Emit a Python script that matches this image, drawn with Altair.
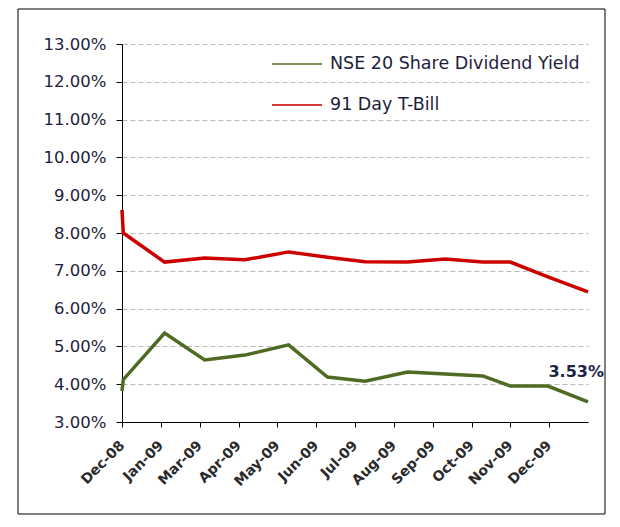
import altair as alt
import pandas as pd

# ---- data ----
dates = ["2008-12-31", "2009-01-01", "2009-02-03", "2009-03-07", "2009-04-08",
         "2009-05-13", "2009-06-13", "2009-07-13", "2009-08-16", "2009-09-15",
         "2009-10-15", "2009-11-06", "2009-12-06", "2010-01-07"]
nse_yield = [3.82, 4.12, 5.35, 4.64, 4.77, 5.04, 4.19, 4.08, 4.32, 4.27,
             4.22, 3.95, 3.95, 3.53]
tbill = [8.61, 8.00, 7.23, 7.34, 7.29, 7.50, 7.36, 7.24, 7.23, 7.31,
         7.23, 7.23, 6.84, 6.44]
series_names = ["NSE 20 Share Dividend Yield", "91 Day T-Bill"]
series_colors = ["#4f6b23", "#cc0000"]
legend_colors = ["#7d8e5c", "#d43a3a"]
tick_dates = ["2008-12-31", "2009-01-31", "2009-03-03", "2009-04-03", "2009-05-04",
              "2009-06-04", "2009-07-05", "2009-08-05", "2009-09-05", "2009-10-06",
              "2009-11-06", "2009-12-07"]
x_domain = ["2008-12-31", "2010-01-07"]
y_ticks = [3, 4, 5, 6, 7, 8, 9, 10, 11, 12, 13]

FONT = "DejaVu Sans"
TXT = "#1e1e3c"


def dt(s):
    y, m, d = (int(p) for p in s.split("-"))
    return alt.DateTime(year=y, month=m, date=d)


df = pd.DataFrame({
    "date": pd.to_datetime(dates * 2),
    "value": nse_yield + tbill,
    "series": [series_names[0]] * len(dates) + [series_names[1]] * len(dates),
})

W, H = 466, 378

x_enc = alt.X("date:T",
              scale=alt.Scale(domain=[dt(d) for d in x_domain], nice=False),
              axis=alt.Axis(values=[dt(d) for d in tick_dates], format="%b-%y",
                            title=None, labelAngle=-45, labelAlign="right",
                            labelBaseline="middle", labelPadding=16,
                            labelFont=FONT, labelFontSize=14, labelFontWeight="bold",
                            labelColor="#2a2a2a", tickColor="#000", tickSize=5,
                            domainColor="#000", grid=False, labelOverlap=False))
y_enc = alt.Y("value:Q", scale=alt.Scale(domain=[3, 13], nice=False, zero=False),
              axis=alt.Axis(values=y_ticks, labelExpr="format(datum.value, '.2f') + '%'",
                            title=None, labelFont=FONT, labelFontSize=16.5,
                            labelColor=TXT, labelPadding=10, tickSize=6,
                            tickColor="#000", domainColor="#000", labelOverlap=False,
                            grid=True, gridDash=[5, 3], gridColor="#b8b8b8"))

lines = alt.Chart(df).mark_line(strokeWidth=3.5).encode(
    x=x_enc, y=y_enc,
    color=alt.Color("series:N", scale=alt.Scale(domain=series_names, range=series_colors),
                    legend=None),
    detail="series:N",
)

last_df = pd.DataFrame({"date": pd.to_datetime([dates[-1]]), "value": [nse_yield[-1]],
                        "label": [f"{nse_yield[-1]:.2f}%"]})
end_label = alt.Chart(last_df).mark_text(
    align="right", baseline="middle", dx=16, dy=-30, font=FONT, fontSize=16,
    fontWeight="bold", color="#1c2446"
).encode(x=x_enc, y=y_enc, text="label:N")

one = alt.Data(values=[{}])
legend_layers = []
for i, name in enumerate(series_names):
    yy = 20 + 41 * i
    legend_layers.append(alt.Chart(one).mark_rule(strokeWidth=2, color=legend_colors[i]).encode(
        x=alt.value(150), x2=alt.value(200), y=alt.value(yy)))
    legend_layers.append(alt.Chart(one).mark_text(
        align="left", baseline="middle", font=FONT, fontSize=17.5, color=TXT).encode(
        x=alt.value(208), y=alt.value(yy), text=alt.value(name)))

frame = alt.Chart(one).mark_rect(filled=False, stroke="#000", strokeWidth=1).encode(
    x=alt.value(-104), x2=alt.value(483), y=alt.value(-35), y2=alt.value(470))

chart = alt.layer(frame, lines, end_label, *legend_layers).properties(
    width=W, height=H,
    autosize=alt.AutoSizeParams(type="none"),
    padding={"left": 114, "top": 36, "right": 18, "bottom": 94},
    background="white",
).configure_view(strokeWidth=0)

chart.save("out.html", embed_options={"renderer": "svg", "actions": False})
